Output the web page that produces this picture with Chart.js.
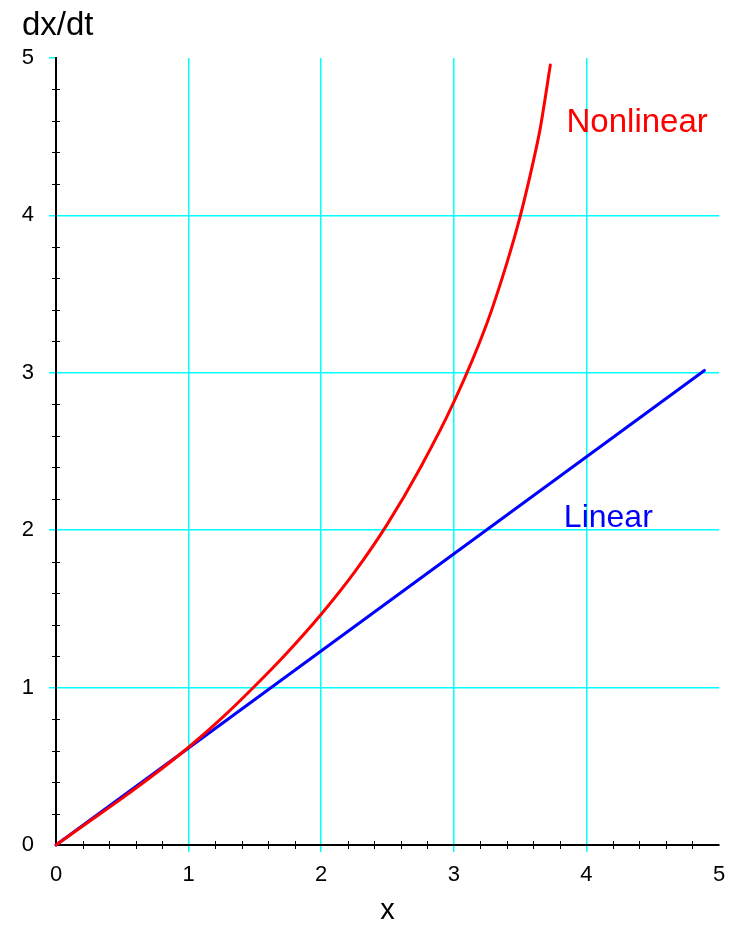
<!DOCTYPE html>
<html><head><meta charset="utf-8">
<script src="https://cdn.jsdelivr.net/npm/chart.js@4/dist/chart.umd.min.js"></script>
<style>html,body{margin:0;padding:0;background:#fff;} canvas{display:block}</style>
</head><body>
<canvas id="c" width="739" height="925"></canvas>
<script>
// ---- data ----
const nonlinearX = [0, 0.25, 0.5, 0.75, 1.0, 1.25, 1.5, 1.75, 2.0, 2.25, 2.5, 2.75, 3.0, 3.25, 3.4, 3.5, 3.6, 3.65, 3.728];
const nonlinearY = [0, 0.149, 0.298, 0.454, 0.621, 0.806, 1.010, 1.228, 1.466, 1.732, 2.040, 2.400, 2.813, 3.315, 3.697, 3.992, 4.345, 4.545, 4.955];
const linearX = [0, 4.89];
const linearY = [0, 3.015];
const xTickLabels = ['0', '1', '2', '3', '4', '5'];
const yTickLabels = ['0', '1', '2', '3', '4', '5'];
const minorTicks = [0.2, 0.4, 0.6, 0.8, 1.2, 1.4, 1.6, 1.8, 2.2, 2.4, 2.6, 2.8, 3.2, 3.4, 3.6, 3.8, 4.2, 4.4, 4.6, 4.8];
const seriesNames = ['Nonlinear', 'Linear'];
const xTitle = 'x';
const yTitle = 'dx/dt';

// ---- styling / layout ----
const FONT = '"Liberation Sans", Arial, Helvetica, sans-serif';
const CYAN = '#00ffff';
const NONE = 'rgba(255,255,255,0)';
const RED = '#ff0000';
const BLUE = '#0000ff';
const labelAnchors = [
  { text: seriesNames[0], x: 3.85, y: 4.53, color: RED, size: 33 },
  { text: seriesNames[1], x: 3.83, y: 2.02, color: BLUE, size: 32 }
];
// grid colours per tick (ticks 0..5): lines only at 1..4, y tick stub also at 5
const xGridColors = [NONE, CYAN, CYAN, CYAN, CYAN, NONE];
const yGridColors = [NONE, CYAN, CYAN, CYAN, CYAN, NONE];
const yTickColors = [NONE, CYAN, CYAN, CYAN, CYAN, CYAN];

const toPoints = (xs, ys) => xs.map((v, i) => ({ x: v, y: ys[i] }));

const decorPlugin = {
  id: 'decor',
  beforeDatasetsDraw(chart) {
    const { ctx, scales: { x, y }, chartArea } = chart;
    ctx.save();
    ctx.strokeStyle = '#000';
    ctx.lineWidth = 1;
    ctx.beginPath();
    minorTicks.forEach(v => {
      const px = Math.round(x.getPixelForValue(v)) + 0.5;
      ctx.moveTo(px, chartArea.bottom - 4);
      ctx.lineTo(px, chartArea.bottom + 4);
      const py = Math.round(y.getPixelForValue(v)) + 0.5;
      ctx.moveTo(chartArea.left - 4, py);
      ctx.lineTo(chartArea.left + 4, py);
    });
    ctx.stroke();
    // y-axis title
    ctx.fillStyle = '#000';
    ctx.font = '33px ' + FONT;
    ctx.textAlign = 'left';
    ctx.textBaseline = 'alphabetic';
    ctx.fillText(yTitle, chartArea.left - 34, chartArea.top - 23);
    ctx.restore();
  },
  afterDatasetsDraw(chart) {
    const { ctx, scales: { x, y } } = chart;
    ctx.save();
    ctx.textAlign = 'left';
    ctx.textBaseline = 'alphabetic';
    labelAnchors.forEach(a => {
      ctx.font = a.size + 'px ' + FONT;
      ctx.fillStyle = a.color;
      ctx.fillText(a.text, x.getPixelForValue(a.x), y.getPixelForValue(a.y));
    });
    ctx.restore();
  }
};

new Chart(document.getElementById('c'), {
  type: 'scatter',
  data: {
    datasets: [
      {
        label: seriesNames[0],
        data: toPoints(nonlinearX, nonlinearY),
        showLine: true,
        borderColor: RED,
        backgroundColor: RED,
        borderWidth: 3,
        pointRadius: 0,
        cubicInterpolationMode: 'monotone',
        borderCapStyle: 'round',
        borderJoinStyle: 'round',
        clip: 6
      },
      {
        label: seriesNames[1],
        data: toPoints(linearX, linearY),
        showLine: true,
        borderColor: BLUE,
        backgroundColor: BLUE,
        borderWidth: 3,
        pointRadius: 0,
        borderCapStyle: 'round',
        clip: 6
      }
    ]
  },
  options: {
    responsive: false,
    animation: false,
    events: [],
    layout: { padding: { left: 0, right: 20, top: 58, bottom: 0 } },
    plugins: { legend: { display: false }, tooltip: { enabled: false }, title: { display: false } },
    scales: {
      x: {
        type: 'linear', min: 0, max: 5,
        afterFit: s => { s.height = 80; },
        ticks: {
          stepSize: 1, color: '#000', padding: 10,
          font: { family: FONT, size: 22 },
          callback: (v) => xTickLabels[Math.round(v)] ?? ''
        },
        grid: {
          color: xGridColors,
          tickColor: xGridColors,
          tickLength: 7, lineWidth: 1.5
        },
        border: { display: true, color: '#000', width: 2 },
        title: {
          display: true, text: xTitle, color: '#000',
          font: { family: FONT, size: 29 },
          padding: { top: 0, bottom: -3 }
        }
      },
      y: {
        type: 'linear', min: 0, max: 5,
        afterFit: s => { s.width = 56; },
        ticks: {
          stepSize: 1, color: '#000', padding: 15,
          font: { family: FONT, size: 22 },
          callback: (v) => yTickLabels[Math.round(v)] ?? ''
        },
        grid: {
          color: yGridColors,
          tickColor: yTickColors,
          tickLength: 7, lineWidth: 1.5
        },
        border: { display: true, color: '#000', width: 2 }
      }
    }
  },
  plugins: [decorPlugin]
});
</script>
</body></html>
